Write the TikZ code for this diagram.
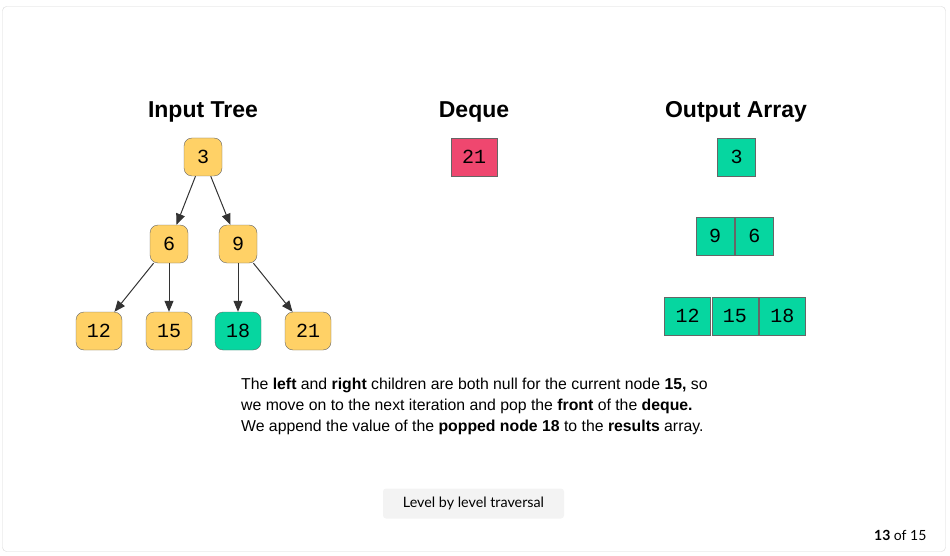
\documentclass[tikz,border=0pt]{standalone}
\usepackage{fontspec}
\setmainfont{Liberation Sans}
\newfontfamily\monofont{Liberation Mono}
\newfontfamily\latofont{Lato}
\usepackage{tikz}
\usetikzlibrary{positioning,arrows.meta}
\definecolor{treeyellow}{HTML}{FFD166}
\definecolor{outgreen}{HTML}{06D6A0}
\definecolor{dequered}{HTML}{EF476F}
\definecolor{boxgray}{HTML}{666666}
\definecolor{arrowgray}{HTML}{333333}
\definecolor{framegray}{HTML}{D6D6D6}
\definecolor{buttongray}{HTML}{F3F3F3}
\tikzstyle{edge}=[-{Triangle[length=11pt,width=9pt]},draw=arrowgray,line width=1pt]
\tikzstyle{title}=[font=\bfseries\fontsize{23}{23}\selectfont]

\begin{document}
\begin{tikzpicture}[x=1pt,y=-1pt,
            treenode/.style={rectangle, draw=boxgray, fill=treeyellow, rounded corners=8pt,
                   inner sep=0pt, minimum width=38pt, minimum height=38pt,
                   font=\monofont\fontsize{20}{20}\selectfont},
            leafnode/.style={treenode, minimum width=46pt},
            cell/.style={rectangle, draw=boxgray, fill=outgreen, inner sep=0pt,
                   minimum width=46pt, minimum height=38pt,
                   font=\monofont\fontsize{20}{20}\selectfont},
            smallcell/.style={cell, minimum width=38pt}
        ]
            \useasboundingbox (0,0) rectangle (950,556);
            \draw [framegray, rounded corners=4pt] (2.5,6.5) rectangle (945.5,551.5);

            % Titles
            \node [title] (treetitle) at (203,112) {Input Tree};
            \node [title] (dequetitle) at (474,112) {Deque};
            \node [title] (outtitle) at (736,112) {Output Array};

            % Input tree
            \node [treenode] (n3) at (203,157) {3};
            \node [treenode] (n6) at (169,244) {6};
            \node [treenode] (n9) at (238,244) {9};
            \node [leafnode] (n12) at (99,331) {12};
            \node [leafnode] (n15) at (169,331) {15};
            \node [leafnode, fill=outgreen] (n18) at (238,331) {18};
            \node [leafnode] (n21) at (308,331) {21};

            % Draw edges
            \draw [edge] (n3) -- (n6);
            \draw [edge] (n3) -- (n9);
            \draw [edge] (n6) -- (n12);
            \draw [edge] (n6) -- (n15);
            \draw [edge] (n9) -- (n18);
            \draw [edge] (n9) -- (n21);

            % Deque
            \node [cell, fill=dequered] (dq21) at (474,157) {21};

            % Output array
            \node [smallcell] (out3) at (736.5,157) {3};
            \node [smallcell] (out9) at (715,236) {9};
            \node [smallcell, right=1pt of out9] (out6) {6};
            \node [cell] (out12) at (687.5,316) {12};
            \node [cell, right=1pt of out12] (out15) {15};
            \node [cell, right=1pt of out15] (out18) {18};

            % Explanation
            \node [anchor=north west, align=left, inner sep=0pt,
                   font=\fontsize{15.8}{21}\selectfont] (explain) at (241,378)
                {The \textbf{left} and \textbf{right} children are both null for the current node \textbf{15,} so\\
                 we move on to the next iteration and pop the \textbf{front} of the \textbf{deque.}\\
                 We append the value of the \textbf{popped node 18} to the \textbf{results} array.};

            % Footer
            \node [fill=buttongray, rounded corners=3pt, minimum width=181pt, minimum height=30pt,
                   font=\latofont\fontsize{14.3}{14.3}\selectfont] (button) at (473.5,503.5)
                {Level by level traversal};
            \node [anchor=east, font=\latofont\fontsize{14}{14}\selectfont] (pages) at (930,535)
                {\textbf{13} of 15};
        \end{tikzpicture}
\end{document}
